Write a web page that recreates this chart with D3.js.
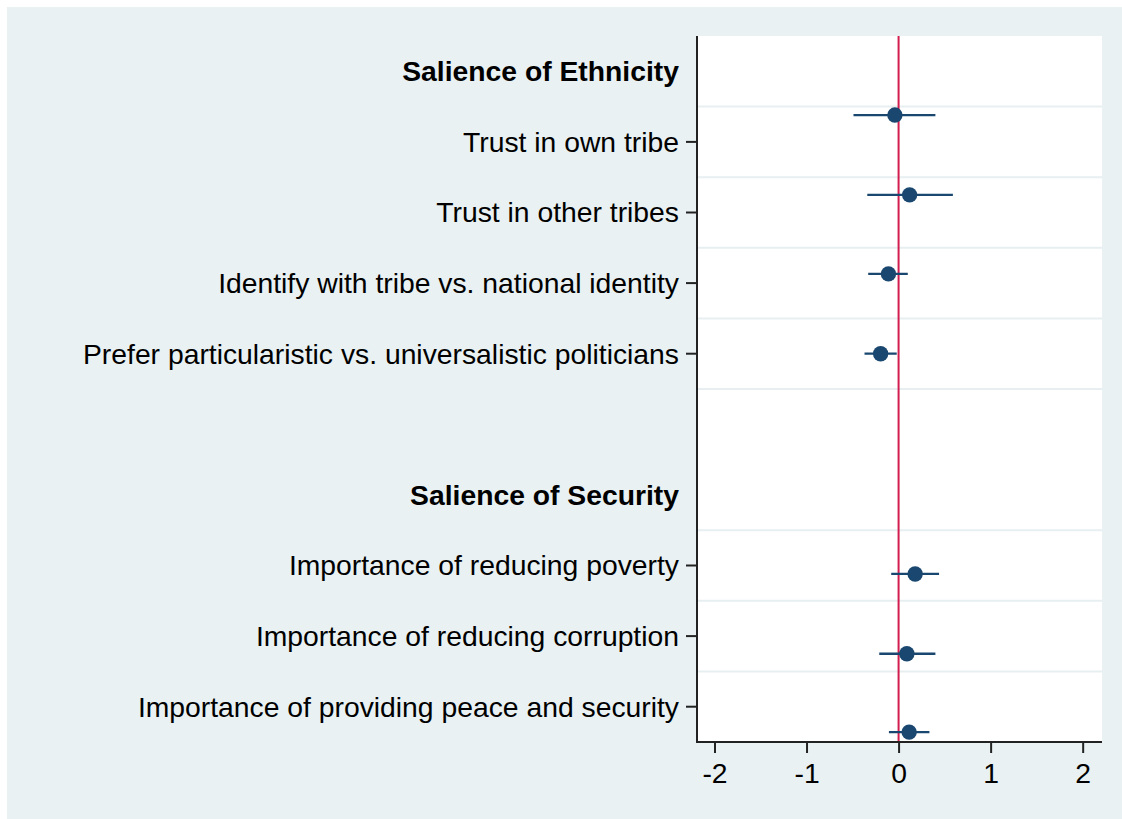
<!DOCTYPE html>
<html>
<head>
<meta charset="utf-8">
<script src="https://cdn.jsdelivr.net/npm/d3@7"></script>
<style>
  html, body { margin: 0; padding: 0; background: #ffffff; }
  svg { display: block; }
  text { font-family: "Liberation Sans", Arial, Helvetica, sans-serif; fill: #000; }
</style>
</head>
<body>
<svg id="chart" width="1122" height="819"></svg>
<script>
// ---- Data ----
const rowLabels = [
  "Salience of Ethnicity",
  "Trust in own tribe",
  "Trust in other tribes",
  "Identify with tribe vs. national identity",
  "Prefer particularistic vs. universalistic politicians",
  "",
  "Salience of Security",
  "Importance of reducing poverty",
  "Importance of reducing corruption",
  "Importance of providing peace and security"
];
const rowIsHeading = [true, false, false, false, false, false, true, false, false, false];
const rowHasTick   = [false, true, true, true, true, false, false, true, true, true];
// gridlines drawn below these row positions (1-based row index)
const gridAfterRows = [1, 2, 3, 4, 5, 7, 8, 9];

const coefNames = [
  "Trust in own tribe",
  "Trust in other tribes",
  "Identify with tribe vs. national identity",
  "Prefer particularistic vs. universalistic politicians",
  "Importance of reducing poverty",
  "Importance of reducing corruption",
  "Importance of providing peace and security"
];
const coefEstimate = [-0.04, 0.12, -0.11, -0.195, 0.18, 0.09, 0.115];
const coefLower    = [-0.49, -0.34, -0.33, -0.37, -0.08, -0.21, -0.105];
const coefUpper    = [0.40, 0.59, 0.10, -0.02, 0.44, 0.40, 0.335];
// vertical position of each marker on the row axis (as plotted in the reference)
const coefPosition = [1.62, 2.75, 3.87, 5.0, 8.12, 9.25, 10.36];

const xTicks = [-2, -1, 0, 1, 2];
const xDomain = [-2.19, 2.21];
const refLineValue = 0;

// ---- Layout ----
const svg = d3.select("#chart");
const W = 1122, H = 819;
const plot = { left: 697, right: 1102, top: 36, bottom: 742 };

svg.append("rect").attr("x", 7).attr("y", 7).attr("width", W - 7).attr("height", H - 7)
  .attr("fill", "#e9f1f3");
svg.append("rect").attr("x", plot.left).attr("y", plot.top)
  .attr("width", plot.right - plot.left).attr("height", plot.bottom - plot.top)
  .attr("fill", "#ffffff");

const x = d3.scaleLinear().domain(xDomain).range([plot.left, plot.right]);
const y = d3.scaleLinear().domain([0.5, rowLabels.length + 0.5]).range([plot.top, plot.bottom]);

// gridlines
svg.append("g").selectAll("line").data(gridAfterRows).join("line")
  .attr("x1", plot.left + 1).attr("x2", plot.right)
  .attr("y1", d => y(d + 0.5)).attr("y2", d => y(d + 0.5))
  .attr("stroke", "#e7eff1").attr("stroke-width", 2);

// reference line
svg.append("line")
  .attr("x1", x(refLineValue)).attr("x2", x(refLineValue))
  .attr("y1", plot.top).attr("y2", plot.bottom)
  .attr("stroke", "#d31d4f").attr("stroke-width", 2);

// confidence intervals
const coefs = coefNames.map((n, i) => ({ name: n, est: coefEstimate[i], lo: coefLower[i], hi: coefUpper[i], pos: coefPosition[i] }));
svg.append("g").selectAll("line").data(coefs).join("line")
  .attr("x1", d => x(d.lo)).attr("x2", d => x(d.hi))
  .attr("y1", d => y(d.pos)).attr("y2", d => y(d.pos))
  .attr("stroke", "#1a476f").attr("stroke-width", 2.3);

svg.append("g").selectAll("circle").data(coefs).join("circle")
  .attr("cx", d => x(d.est)).attr("cy", d => y(d.pos)).attr("r", 7.7)
  .attr("fill", "#1a476f");

// x axis
const xAxis = d3.axisBottom(x).tickValues(xTicks).tickSize(11).tickPadding(10)
  .tickFormat(d3.format("d"));
const gx = svg.append("g").attr("transform", `translate(0,${plot.bottom})`).call(xAxis);
gx.select(".domain").attr("d", `M${plot.left},0H${plot.right}`).attr("stroke", "#222").attr("stroke-width", 2);
gx.selectAll(".tick line").attr("stroke", "#222").attr("stroke-width", 2);
gx.selectAll(".tick text").attr("font-size", 28.3).attr("dy", "0.71em")
  .attr("font-family", "'Liberation Sans', Arial, sans-serif").attr("fill", "#000")
  .text(d => d < 0 ? "-" + Math.abs(d) : d);

// y axis
const rowIdx = d3.range(1, rowLabels.length + 1);
const gy = svg.append("g");
gy.append("line").attr("x1", plot.left).attr("x2", plot.left)
  .attr("y1", plot.top).attr("y2", plot.bottom + 1)
  .attr("stroke", "#222").attr("stroke-width", 2);
gy.selectAll("line.tick").data(rowIdx.filter(i => rowHasTick[i - 1])).join("line")
  .attr("class", "tick")
  .attr("x1", plot.left - 11).attr("x2", plot.left)
  .attr("y1", d => y(d)).attr("y2", d => y(d))
  .attr("stroke", "#222").attr("stroke-width", 2);
gy.selectAll("text").data(rowIdx.filter(i => rowLabels[i - 1] !== "")).join("text")
  .attr("x", plot.left - 18)
  .attr("y", d => y(d))
  .attr("dy", "0.35em")
  .attr("text-anchor", "end")
  .attr("font-size", 28.3)
  .attr("font-weight", d => rowIsHeading[d - 1] ? "bold" : "normal")
  .text(d => rowLabels[d - 1]);
</script>
</body>
</html>
